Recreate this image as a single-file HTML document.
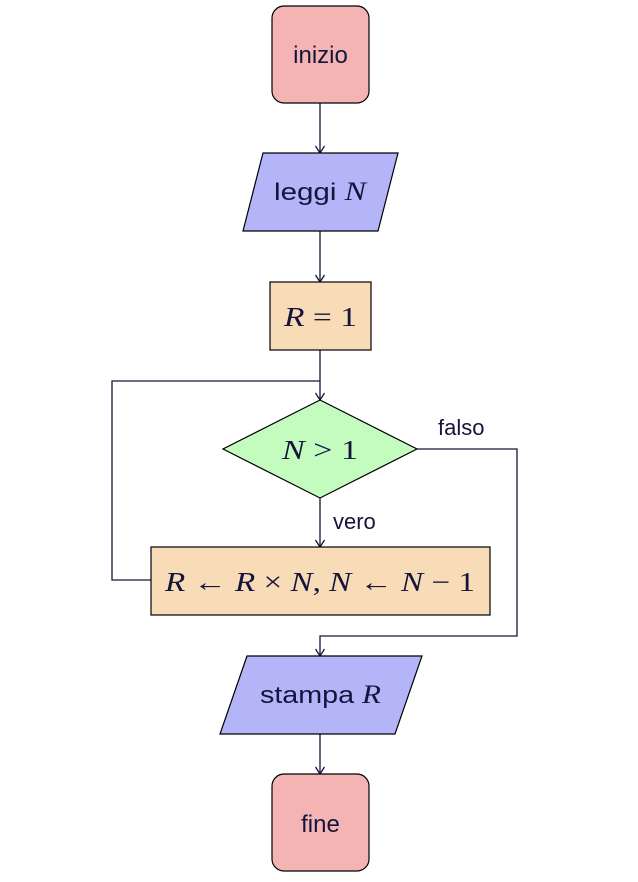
<!DOCTYPE html>
<html><head><meta charset="utf-8"><style>
html,body{margin:0;padding:0;background:#fff;}
svg{display:block;}
text{font-family:"Liberation Sans",sans-serif;fill:#14143c;}
.m{font-family:"Liberation Serif",serif;font-style:italic;}
.r{font-family:"Liberation Serif",serif;}
</style></head><body>
<svg width="638" height="882" viewBox="0 0 638 882" xmlns="http://www.w3.org/2000/svg">
<g stroke="#14143c" stroke-width="1.3" fill="none">
<line x1="320" y1="103" x2="320" y2="153"/>
<path d="M315.5 146 L320 153 L324.5 146"/>
<line x1="320" y1="231" x2="320" y2="282"/>
<path d="M315.5 275 L320 282 L324.5 275"/>
<line x1="320" y1="350" x2="320" y2="400"/>
<path d="M315.5 393 L320 400 L324.5 393"/>
<polyline points="151,580 112,580 112,381 320,381"/>
<line x1="320" y1="498" x2="320" y2="547"/>
<path d="M315.5 540 L320 547 L324.5 540"/>
<polyline points="417,449 517,449 517,636 320,636 320,656"/>
<path d="M315.5 649 L320 656 L324.5 649"/>
<line x1="320" y1="734" x2="320" y2="774"/>
<path d="M315.5 767 L320 774 L324.5 767"/>
</g>
<g stroke="#000" stroke-width="1.2">
<rect x="272" y="6" width="97" height="97" rx="12" fill="#f4b4b4"/>
<polygon points="263,153 398,153 378,231 243,231" fill="#b4b4f8"/>
<rect x="270" y="282" width="101" height="68" fill="#f8dcb8"/>
<polygon points="320,400 417,449 320,498 223,449" fill="#c4fcc0"/>
<rect x="151" y="547" width="339" height="68" fill="#f8dcb8"/>
<polygon points="247,656 422,656 395,734 220,734" fill="#b4b4f8"/>
<rect x="272" y="774" width="97" height="97" rx="12" fill="#f4b4b4"/>
</g>
<text x="320.5" y="63" font-size="24" text-anchor="middle">inizio</text>
<text x="274" y="200" font-size="24" textLength="92" lengthAdjust="spacingAndGlyphs">leggi <tspan class="m" font-size="26">N</tspan></text>
<text x="284" y="326" font-size="27" textLength="73" lengthAdjust="spacingAndGlyphs"><tspan class="m">R</tspan><tspan class="r"> = 1</tspan></text>
<text x="282" y="459" font-size="27" textLength="76" lengthAdjust="spacingAndGlyphs"><tspan class="m">N</tspan><tspan class="r"> &gt; 1</tspan></text>
<text x="438" y="435" font-size="22">falso</text>
<text x="333" y="529" font-size="22">vero</text>
<text x="165" y="591" font-size="27" textLength="310" lengthAdjust="spacingAndGlyphs"><tspan class="m">R</tspan><tspan class="r"> ← </tspan><tspan class="m">R</tspan><tspan class="r"> × </tspan><tspan class="m">N</tspan><tspan class="r">, </tspan><tspan class="m">N</tspan><tspan class="r"> ← </tspan><tspan class="m">N</tspan><tspan class="r"> − 1</tspan></text>
<text x="260" y="703" font-size="24" textLength="121" lengthAdjust="spacingAndGlyphs">stampa <tspan class="m" font-size="26">R</tspan></text>
<text x="320.5" y="832" font-size="24" text-anchor="middle">fine</text>
</svg>
</body></html>
